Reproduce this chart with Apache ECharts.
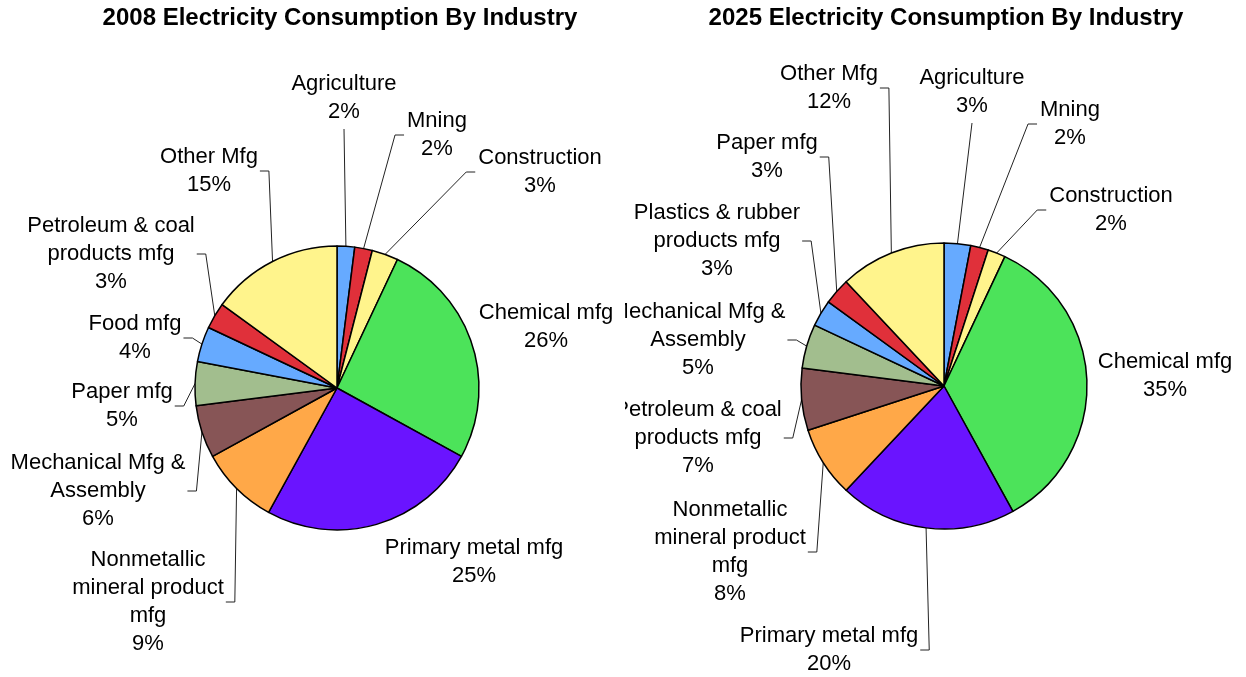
<!DOCTYPE html>
<html>
<head>
<meta charset="utf-8">
<script src="https://cdn.jsdelivr.net/npm/echarts@6/dist/echarts.min.js"></script>
<style>
  html, body { margin: 0; padding: 0; background: #fff; }
  #pie2008 { position: absolute; left: 0; top: 0; width: 625px; height: 677px; overflow: hidden; }
  #pie2025 { position: absolute; left: 625px; top: 0; width: 621px; height: 677px; overflow: hidden; }
</style>
</head>
<body>
<div id="pie2008"></div>
<div id="pie2025"></div>
<script>
// Electricity consumption share by industry, percent of total
const categories2008 = [
  'Agriculture', 'Mning', 'Construction', 'Chemical mfg', 'Primary metal mfg',
  'Nonmetallic\nmineral product\nmfg', 'Mechanical Mfg &\nAssembly', 'Paper mfg',
  'Food mfg', 'Petroleum & coal\nproducts mfg', 'Other Mfg'
];
const share2008 = [2, 2, 3, 26, 25, 9, 6, 5, 4, 3, 15];

const categories2025 = [
  'Agriculture', 'Mning', 'Construction', 'Chemical mfg', 'Primary metal mfg',
  'Nonmetallic\nmineral product\nmfg', 'Petroleum & coal\nproducts mfg',
  'Mechanical Mfg &\nAssembly', 'Plastics & rubber\nproducts mfg', 'Paper mfg', 'Other Mfg'
];
const share2025 = [3, 2, 2, 35, 20, 8, 7, 5, 3, 3, 12];

// slice fills, in data order
const palette2008 = ['#66aaff', '#e0303a', '#fff48c', '#4ce35a', '#6a14ff', '#ffa848',
                     '#875556', '#a2be8e', '#66aaff', '#e0303a', '#fff48c'];
const palette2025 = ['#66aaff', '#e0303a', '#fff48c', '#4ce35a', '#6a14ff', '#ffa848',
                     '#875556', '#a2be8e', '#66aaff', '#e0303a', '#fff48c'];

// label block centres (chart-local pixels) and the side of the block the leader meets:
// 'l' left, 'r' right, 'b' bottom, '' no leader
const labelSpots2008 = [[344, 98], [437, 135], [540, 172], [546, 327], [474, 562],
                        [148, 602], [98, 491], [122, 406], [135, 338], [111, 254], [209, 171]];
const leaderSide2008 = ['b', 'l', 'l', '', '', 'r', 'r', 'r', 'r', 'r', 'r'];
const labelSpots2025 = [[347, 92], [445, 124], [486, 210], [540, 376], [204, 650],
                        [105, 552], [73, 438], [73, 340], [92, 241], [142, 157], [204, 88]];
const leaderSide2025 = ['b', 'l', 'l', '', 'r', 'r', 'r', 'r', 'r', 'r', 'r'];

const FONT = '"Liberation Sans", Arial, sans-serif';
const ELBOW = 9;

function buildOption(title, titleX, names, values, colors, spots, sides, center, radius) {
  const data = names.map((n, i) => ({
    name: n,
    value: values[i],
    itemStyle: { color: colors[i] },
    labelLine: { show: sides[i] !== '' }
  }));
  return {
    animation: false,
    title: {
      text: title,
      left: titleX,
      top: 6,
      padding: 0,
      textAlign: 'center',
      textStyle: { fontFamily: FONT, fontSize: 24, fontWeight: 'bold', color: '#000' }
    },
    series: [{
      type: 'pie',
      center: center,
      radius: radius,
      startAngle: 90,
      clockwise: true,
      avoidLabelOverlap: false,
      silent: true,
      data: data,
      itemStyle: { borderColor: '#000', borderWidth: 1.5 },
      label: {
        show: true,
        position: 'outside',
        fontFamily: FONT,
        fontSize: 22,
        lineHeight: 28,
        color: '#000',
        align: 'center',
        formatter: p => p.name + '\n' + p.value + '%'
      },
      labelLine: {
        length: 10,
        length2: 8,
        lineStyle: { color: '#222', width: 1 }
      },
      labelLayout: function (p) {
        const i = p.dataIndex;
        const s = spots[i];
        const out = { x: s[0], y: s[1], align: 'center', verticalAlign: 'middle' };
        const side = sides[i];
        if (side && p.labelLinePoints) {
          // leader starts where the pie put it: the slice edge at its mid angle
          const start = p.labelLinePoints[0];
          const w = p.labelRect.width, h = p.labelRect.height;
          let end, elbow;
          if (side === 'b') {
            end = [s[0], s[1] + h / 2 + 3];
            elbow = end;
          } else if (side === 'l') {
            end = [s[0] - w / 2 - 3, s[1]];
            elbow = [end[0] - ELBOW, s[1]];
          } else {
            end = [s[0] + w / 2 + 2, s[1]];
            elbow = [end[0] + ELBOW, s[1]];
          }
          out.labelLinePoints = [start, elbow, end];
        }
        return out;
      }
    }]
  };
}

const chartA = echarts.init(document.getElementById('pie2008'));
chartA.setOption(buildOption('2008 Electricity Consumption By Industry', 340,
  categories2008, share2008, palette2008, labelSpots2008, leaderSide2008, [337, 388], 142));

const chartB = echarts.init(document.getElementById('pie2025'));
chartB.setOption(buildOption('2025 Electricity Consumption By Industry', 321,
  categories2025, share2025, palette2025, labelSpots2025, leaderSide2025, [319, 386], 143));
</script>
</body>
</html>
